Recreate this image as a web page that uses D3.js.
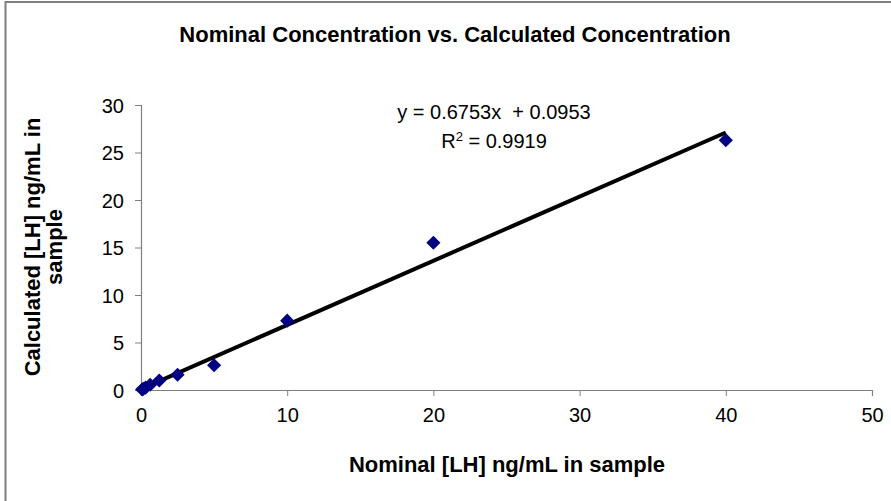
<!DOCTYPE html>
<html>
<head>
<meta charset="utf-8">
<script src="https://cdn.jsdelivr.net/npm/d3@7"></script>
<style>
    body { margin: 0; background: #fff; }
    svg { display: block; font-family: "Liberation Sans", Arial, sans-serif; }
</style>
</head>
<body>
<svg id="chart" width="891" height="501"></svg>
<script>
    // values
    var nominal = [40, 20, 10, 5, 2.5, 1.25, 0.625, 0.3125, 0.156, 0.078],
        calculated = [26.3, 15.5, 7.3, 2.6, 1.6, 1.0, 0.55, 0.25, 0.12, 0.05],
        xTicks = [0, 10, 20, 30, 40, 50],
        yTicks = [0, 5, 10, 15, 20, 25, 30],
        slope = 0.6753,
        intercept = 0.0953,
        rSquared = 0.9919;

    var svg = d3.select("#chart"),
        plot = { left: 141, right: 872, top: 105, bottom: 390 };

    var x = d3.scaleLinear().domain([0, 50]).range([plot.left, plot.right]),
        y = d3.scaleLinear().domain([0, 30]).range([plot.bottom, plot.top]);

    // outer chart border (only top/left visible in the window)
    svg.append("rect")
        .attr("x", 5.5).attr("y", 2)
        .attr("width", 900).attr("height", 510)
        .attr("fill", "none")
        .attr("stroke", "#7f7f7f")
        .attr("stroke-width", 2);

    svg.append("text")
        .attr("x", 455).attr("y", 42)
        .attr("text-anchor", "middle")
        .attr("font-weight", "bold")
        .attr("font-size", 22)
        .text("Nominal Concentration vs. Calculated Concentration");

    var xAxis = svg.append("g")
        .attr("transform", "translate(0," + plot.bottom + ")")
        .call(d3.axisBottom(x).tickValues(xTicks).tickSize(6).tickPadding(12));
    var yAxis = svg.append("g")
        .attr("transform", "translate(" + plot.left + ",0)")
        .call(d3.axisLeft(y).tickValues(yTicks).tickSize(6).tickPadding(11));

    [xAxis, yAxis].forEach(function (ax) {
        ax.select(".domain").attr("stroke", "#808080").attr("stroke-width", 1.2);
        ax.selectAll(".tick line").attr("stroke", "#808080");
        ax.selectAll(".tick text")
            .attr("fill", "#000")
            .attr("font-size", 20)
            .attr("font-family", "Liberation Sans, Arial, sans-serif");
    });
    yAxis.selectAll(".tick text").attr("dy", "0.36em");

    // trendline from the displayed equation, across the data range
    var ext = d3.extent(nominal),
        trend = ext.map(function (v) { return [v, slope * v + intercept]; });

    svg.append("path")
        .datum(trend)
        .attr("fill", "none")
        .attr("stroke", "#000")
        .attr("stroke-width", 4)
        .attr("d", d3.line()
            .x(function (d) { return x(d[0]); })
            .y(function (d) { return y(d[1]); }));

    var points = nominal.map(function (v, i) { return { x: v, y: calculated[i] }; });

    svg.append("g").selectAll("path.pt")
        .data(points)
        .enter().append("path")
        .attr("class", "pt")
        .attr("d", d3.symbol(d3.symbolSquare, 100))
        .attr("transform", function (d) {
            return "translate(" + x(d.x) + "," + y(d.y) + ") rotate(45)";
        })
        .attr("fill", "#000080");

    var eq = svg.append("g")
        .attr("font-size", 20)
        .attr("text-anchor", "middle");
    eq.append("text")
        .attr("x", 494).attr("y", 119)
        .attr("xml:space", "preserve")
        .text("y = " + slope + "x  + " + intercept);
    var r2 = eq.append("text")
        .attr("x", 494).attr("y", 148);
    r2.append("tspan").text("R");
    r2.append("tspan").attr("font-size", 13).attr("dy", -7).text("2");
    r2.append("tspan").attr("dy", 7).text(" = " + rSquared);

    svg.append("text")
        .attr("x", 507).attr("y", 472)
        .attr("text-anchor", "middle")
        .attr("font-weight", "bold")
        .attr("font-size", 22)
        .text("Nominal [LH] ng/mL in sample");

    var yLabel = svg.append("text")
        .attr("transform", "translate(40,247) rotate(-90)")
        .attr("text-anchor", "middle")
        .attr("font-weight", "bold")
        .attr("font-size", 22);
    yLabel.append("tspan").attr("x", 0).attr("y", 0).text("Calculated [LH] ng/mL in");
    yLabel.append("tspan").attr("x", 0).attr("y", 22).text("sample");
</script>
</body>
</html>
